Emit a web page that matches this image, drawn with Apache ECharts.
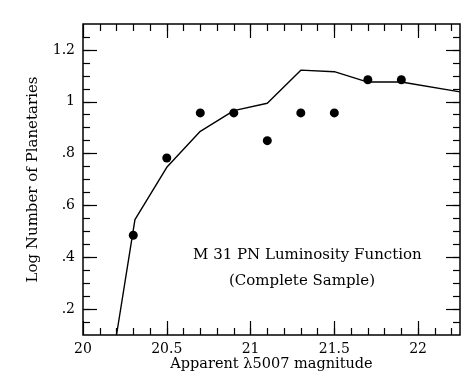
<!DOCTYPE html>
<html>
<head>
<meta charset="utf-8">
<script src="https://cdn.jsdelivr.net/npm/echarts@6/dist/echarts.min.js"></script>
<style>
  html, body { margin: 0; padding: 0; background: #fff; }
  #chart { width: 476px; height: 375px; }
</style>
</head>
<body>
<div id="chart"></div>
<script>
// observed PN counts (log)
const obsMag = [20.3, 20.5, 20.7, 20.9, 21.1, 21.3, 21.5, 21.7, 21.9];
const obsLogN = [0.485, 0.783, 0.957, 0.957, 0.85, 0.957, 0.957, 1.085, 1.085];
// model luminosity function curve
const modelMag = [20.2, 20.31, 20.5, 20.7, 20.9, 21.1, 21.3, 21.5, 21.7, 21.9, 22.25];
const modelLogN = [0.1, 0.545, 0.747, 0.886, 0.966, 0.994, 1.122, 1.116, 1.076, 1.076, 1.038];
// tick labels
const xMajor = [20, 20.5, 21, 21.5, 22];
const yMajor = [0.2, 0.4, 0.6, 0.8, 1, 1.2];

const xMinor = [];
for (let i = 1; i <= 22; i++) xMinor.push(Math.round((20 + i * 0.1) * 10) / 10);
const yMinor = [];
for (let i = 3; i <= 25; i++) yMinor.push(Math.round(i * 5) / 100);

const font = "DejaVu Serif";
const chart = echarts.init(document.getElementById("chart"));

function xAx(pos, major, showLabel) {
  return {
    type: "value", min: 20, max: 22.25, position: pos,
    name: showLabel ? "Apparent λ5007 magnitude" : "",
    nameLocation: "middle", nameGap: 22, nameMoveOverlap: false,
    nameTextStyle: { fontFamily: font, fontSize: 14.5, color: "#000" },
    axisLine: { show: false },
    splitLine: { show: false },
    axisTick: {
      show: true, inside: true, length: major ? 14 : 7,
      customValues: major ? xMajor : xMinor,
      lineStyle: { color: "#000", width: 1.2 }
    },
    axisLabel: {
      show: showLabel, customValues: xMajor, margin: 7,
      fontFamily: font, fontSize: 14, color: "#000"
    }
  };
}

function yAx(pos, major, showLabel) {
  return {
    type: "value", min: 0.1, max: 1.3, position: pos,
    name: showLabel ? "Log Number of Planetaries" : "",
    nameLocation: "middle", nameGap: 42,
    nameTextStyle: { fontFamily: font, fontSize: 15, color: "#000" },
    axisLine: { show: false },
    splitLine: { show: false },
    axisTick: {
      show: true, inside: true, length: major ? 14 : 7,
      customValues: major ? yMajor : yMinor,
      lineStyle: { color: "#000", width: 1.2 }
    },
    axisLabel: {
      show: showLabel, customValues: yMajor, margin: 8,
      fontFamily: font, fontSize: 14, color: "#000",
      formatter: v => (v === 1 ? "1" : v.toFixed(1).replace(/^0/, ""))
    }
  };
}

chart.setOption({
  animation: false,
  grid: {
    left: 83, right: 16, top: 24, bottom: 40,
    outerBoundsMode: "none",
    show: true, borderColor: "#000", borderWidth: 1.5, backgroundColor: "transparent"
  },
  xAxis: [xAx("bottom", true, true), xAx("bottom", false, false), xAx("top", true, false), xAx("top", false, false)],
  yAxis: [yAx("left", true, true), yAx("left", false, false), yAx("right", true, false), yAx("right", false, false)],
  graphic: [
    { type: "text", left: 193, top: 248, style: { text: "M 31 PN Luminosity Function", fontFamily: font, fontSize: 15, fill: "#000" } },
    { type: "text", left: 229, top: 274, style: { text: "(Complete Sample)", fontFamily: font, fontSize: 15, fill: "#000" } }
  ],
  series: [
    {
      type: "line",
      data: modelMag.map((m, i) => [m, modelLogN[i]]),
      showSymbol: false,
      lineStyle: { color: "#000", width: 1.4 }
    },
    {
      type: "scatter",
      data: obsMag.map((m, i) => [m, obsLogN[i]]),
      symbolSize: 9,
      itemStyle: { color: "#000", opacity: 1 }
    }
  ]
});
</script>
</body>
</html>
